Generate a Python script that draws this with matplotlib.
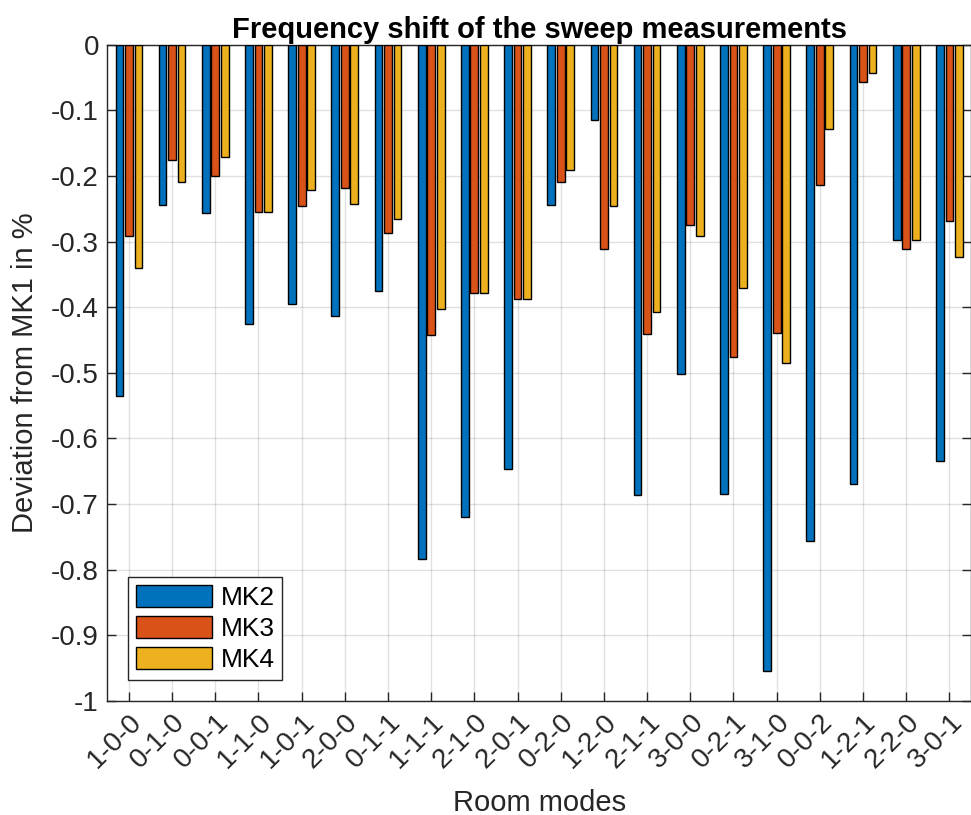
import numpy as np
import matplotlib.pyplot as plt

plt.rcParams['font.family'] = ['Liberation Sans', 'DejaVu Sans']
plt.rcParams['axes.unicode_minus'] = False

# room modes and deviation of each microphone from MK1 (in %)
modes = ['1-0-0', '0-1-0', '0-0-1', '1-1-0', '1-0-1', '2-0-0', '0-1-1',
         '1-1-1', '2-1-0', '2-0-1', '0-2-0', '1-2-0', '2-1-1', '3-0-0',
         '0-2-1', '3-1-0', '0-0-2', '1-2-1', '2-2-0', '3-0-1']
mk2 = [-0.535, -0.245, -0.257, -0.426, -0.395, -0.413, -0.376,
       -0.784, -0.719, -0.647, -0.244, -0.115, -0.686, -0.502,
       -0.685, -0.955, -0.757, -0.670, -0.298, -0.634]
mk3 = [-0.291, -0.175, -0.200, -0.255, -0.246, -0.219, -0.287,
       -0.442, -0.379, -0.388, -0.210, -0.312, -0.441, -0.275,
       -0.476, -0.440, -0.214, -0.057, -0.312, -0.268]
mk4 = [-0.340, -0.210, -0.171, -0.255, -0.222, -0.243, -0.265,
       -0.402, -0.379, -0.388, -0.191, -0.246, -0.408, -0.291,
       -0.371, -0.485, -0.128, -0.043, -0.298, -0.324]
names = ['MK2', 'MK3', 'MK4']
colors = ['#0072BD', '#D95319', '#EDB120']

x = np.arange(1, len(modes) + 1)
w = 0.18
offs = [-0.22, 0.0, 0.22]

fig = plt.figure(figsize=(9.71, 8.15), dpi=100)
ax = fig.add_axes([0.1105, 0.1399, 0.8895, 0.8053])

for vals, name, c, o in zip([mk2, mk3, mk4], names, colors, offs):
    ax.bar(x + o, vals, width=w, color=c, edgecolor='black', linewidth=1.0,
           label=name, zorder=3)

ax.set_xlim(0.5, 20.5)
ax.set_ylim(-1, 0)
ax.set_xticks(x)
ax.set_xticklabels(modes, rotation=45, ha='right', rotation_mode='anchor',
                   fontsize=20)
yt = np.round(np.arange(-1.0, 0.01, 0.1), 1) + 0.0
ax.set_yticks(yt)
ax.set_yticklabels(['%g' % v for v in yt], fontsize=20)

ax.grid(True, color='black', alpha=0.12, linewidth=1.0, zorder=0)
ax.set_axisbelow(True)
ax.tick_params(direction='in', length=6.5, width=1.0, top=True, right=True,
               colors='#262626', labelcolor='#262626', pad=6)
for sp in ax.spines.values():
    sp.set_color('#262626')
    sp.set_linewidth(1.0)

ax.set_title('Frequency shift of the sweep measurements', fontsize=21,
             fontweight='bold', pad=5)
ax.set_xlabel('Room modes', fontsize=21, color='#262626', labelpad=11)
ax.set_ylabel('Deviation from MK1 in %', fontsize=21, color='#262626',
              labelpad=9)

leg = ax.legend(loc='lower left', bbox_to_anchor=(0.024, 0.032), fontsize=19,
                handlelength=2.9, handleheight=0.9, handletextpad=0.3,
                labelspacing=0.22, borderpad=0.3, fancybox=False,
                framealpha=1, edgecolor='#262626', borderaxespad=0)
leg.get_frame().set_linewidth(1.0)

fig.savefig('out.png', dpi=100)
